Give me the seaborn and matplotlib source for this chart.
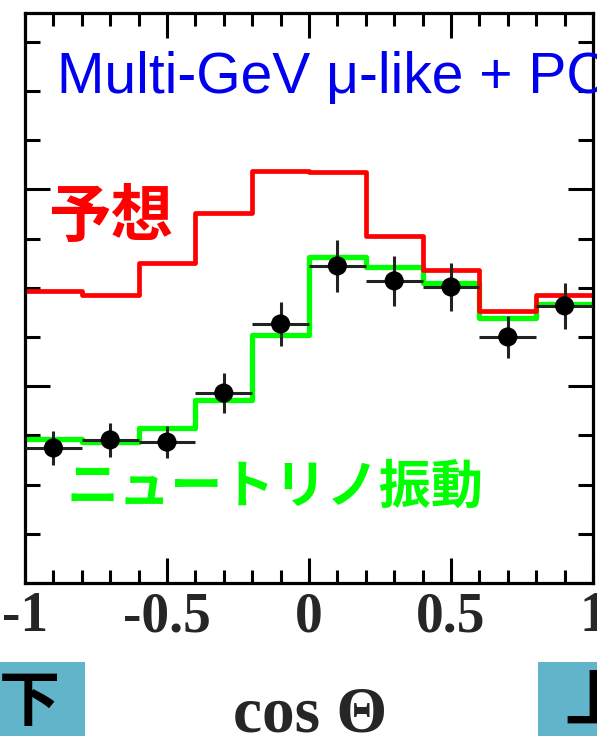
import numpy as np
import pandas as pd
import matplotlib
matplotlib.use("Agg")
import matplotlib.pyplot as plt
from matplotlib.patches import Rectangle
from matplotlib.ticker import MultipleLocator
import seaborn as sns

# ---- data (arbitrary units) ----
bin_edges = [-1.0, -0.8, -0.6, -0.4, -0.2, 0.0, 0.2, 0.4, 0.6, 0.8, 1.0]
bin_centers = [-0.9, -0.7, -0.5, -0.3, -0.1, 0.1, 0.3, 0.5, 0.7, 0.9]
expected_no_osc = [148.4, 146.3, 162.6, 188.0, 209.3, 208.8, 176.3, 159.0, 138.2, 146.3]
expected_osc = [73.2, 71.6, 78.8, 93.0, 126.0, 165.7, 160.6, 152.4, 134.7, 141.8]
data_values = [68.6, 72.7, 71.6, 96.5, 131.6, 161.1, 153.5, 150.4, 125.0, 140.8]
data_errors = [8.6, 8.6, 8.1, 10.2, 11.2, 13.2, 12.7, 12.2, 10.7, 11.7]
x_tick_values = [-1, -0.5, 0, 0.5, 1]
x_tick_labels = ["-1", "-0.5", "0", "0.5", "1"]

df = pd.DataFrame({"cos": bin_centers, "noosc": expected_no_osc,
                   "osc": expected_osc, "data": data_values, "err": data_errors})

sns.set_theme(style="white")
plt.rcParams["font.family"] = ["Liberation Serif", "DejaVu Sans"]

W, H = 597, 736
fig = plt.figure(figsize=(W / 100, H / 100), dpi=100)
ax = fig.add_axes([25 / W, 1 - 583 / H, (593 - 25) / W, (583 - 13) / H])

sns.histplot(data=df, x="cos", weights="osc", bins=bin_edges, element="step",
             fill=False, color="#00ff00", linewidth=3.8, ax=ax)
sns.histplot(data=df, x="cos", weights="noosc", bins=bin_edges, element="step",
             fill=False, color="#ff0000", linewidth=3.4, ax=ax)

ax.errorbar(df["cos"], df["data"], yerr=df["err"], xerr=0.1, fmt="none",
            ecolor="#222222", elinewidth=2.2, capsize=0, zorder=4)
sns.scatterplot(data=df, x="cos", y="data", color="black", s=190,
                edgecolor="none", ax=ax, zorder=5)

ax.set_xlim(-1, 1)
ax.set_ylim(0, 289.6)
ax.set_xlabel("")
ax.set_ylabel("")

ax.xaxis.set_major_locator(MultipleLocator(0.5))
ax.xaxis.set_minor_locator(MultipleLocator(0.1))
ax.yaxis.set_major_locator(MultipleLocator(100))
ax.yaxis.set_minor_locator(MultipleLocator(25))
ax.set_xticks(x_tick_values)
ax.set_xticklabels(x_tick_labels)
ax.tick_params(which="both", direction="in", top=True, right=True, bottom=True,
               left=True, width=2.2, color="black")
ax.tick_params(which="major", axis="x", length=18)
ax.tick_params(which="minor", axis="x", length=9.5)
ax.tick_params(which="major", axis="y", length=18)
ax.tick_params(which="minor", axis="y", length=11)
ax.tick_params(axis="y", labelleft=False)
ax.tick_params(axis="x", pad=6, labelsize=40)
for lab in ax.get_xticklabels():
    lab.set_fontweight("bold")
    lab.set_family(["Liberation Serif", "DejaVu Serif"])
for sp in ax.spines.values():
    sp.set_linewidth(2.3)
    sp.set_color("black")
    sp.set_visible(True)

# title text
fig.text(57 / W, 1 - 93 / H, "Multi-GeV μ-like + PC", color="#0000ee",
         fontsize=41, family=["Liberation Sans", "DejaVu Sans"], va="baseline",
         ha="left")

cjk = ["Noto Sans CJK JP", "DejaVu Sans"]
fig.text(111 / W, 1 - 217 / H, "予想", color="#ff0000", fontsize=45,
         family=cjk, fontweight="bold", ha="center", va="center")
fig.text(275 / W, 1 - 487 / H, "ニュートリノ振動", color="#00ff00", fontsize=37.5,
         family=cjk, fontweight="bold", ha="center", va="center")

# x label
fig.text(310 / W, 5 / H, "cos Θ", fontsize=47, fontweight="bold",
         family=["Liberation Serif", "DejaVu Serif"], ha="center", va="baseline")

# direction boxes
box_color = "#62b4cb"
fig.patches.append(Rectangle((0, 0), 85 / W, 74 / H, transform=fig.transFigure,
                             facecolor=box_color, edgecolor="none", zorder=0))
fig.patches.append(Rectangle((538 / W, 0), 59 / W, 74 / H, transform=fig.transFigure,
                             facecolor=box_color, edgecolor="none", zorder=0))
fig.text(29 / W, 1 - 703 / H, "下", fontsize=44, family=cjk, fontweight="bold",
         color="black", ha="center", va="center")
fig.text(595 / W, 1 - 703 / H, "上", fontsize=44, family=cjk, fontweight="bold",
         color="black", ha="center", va="center")

fig.savefig("out.png", dpi=100)
